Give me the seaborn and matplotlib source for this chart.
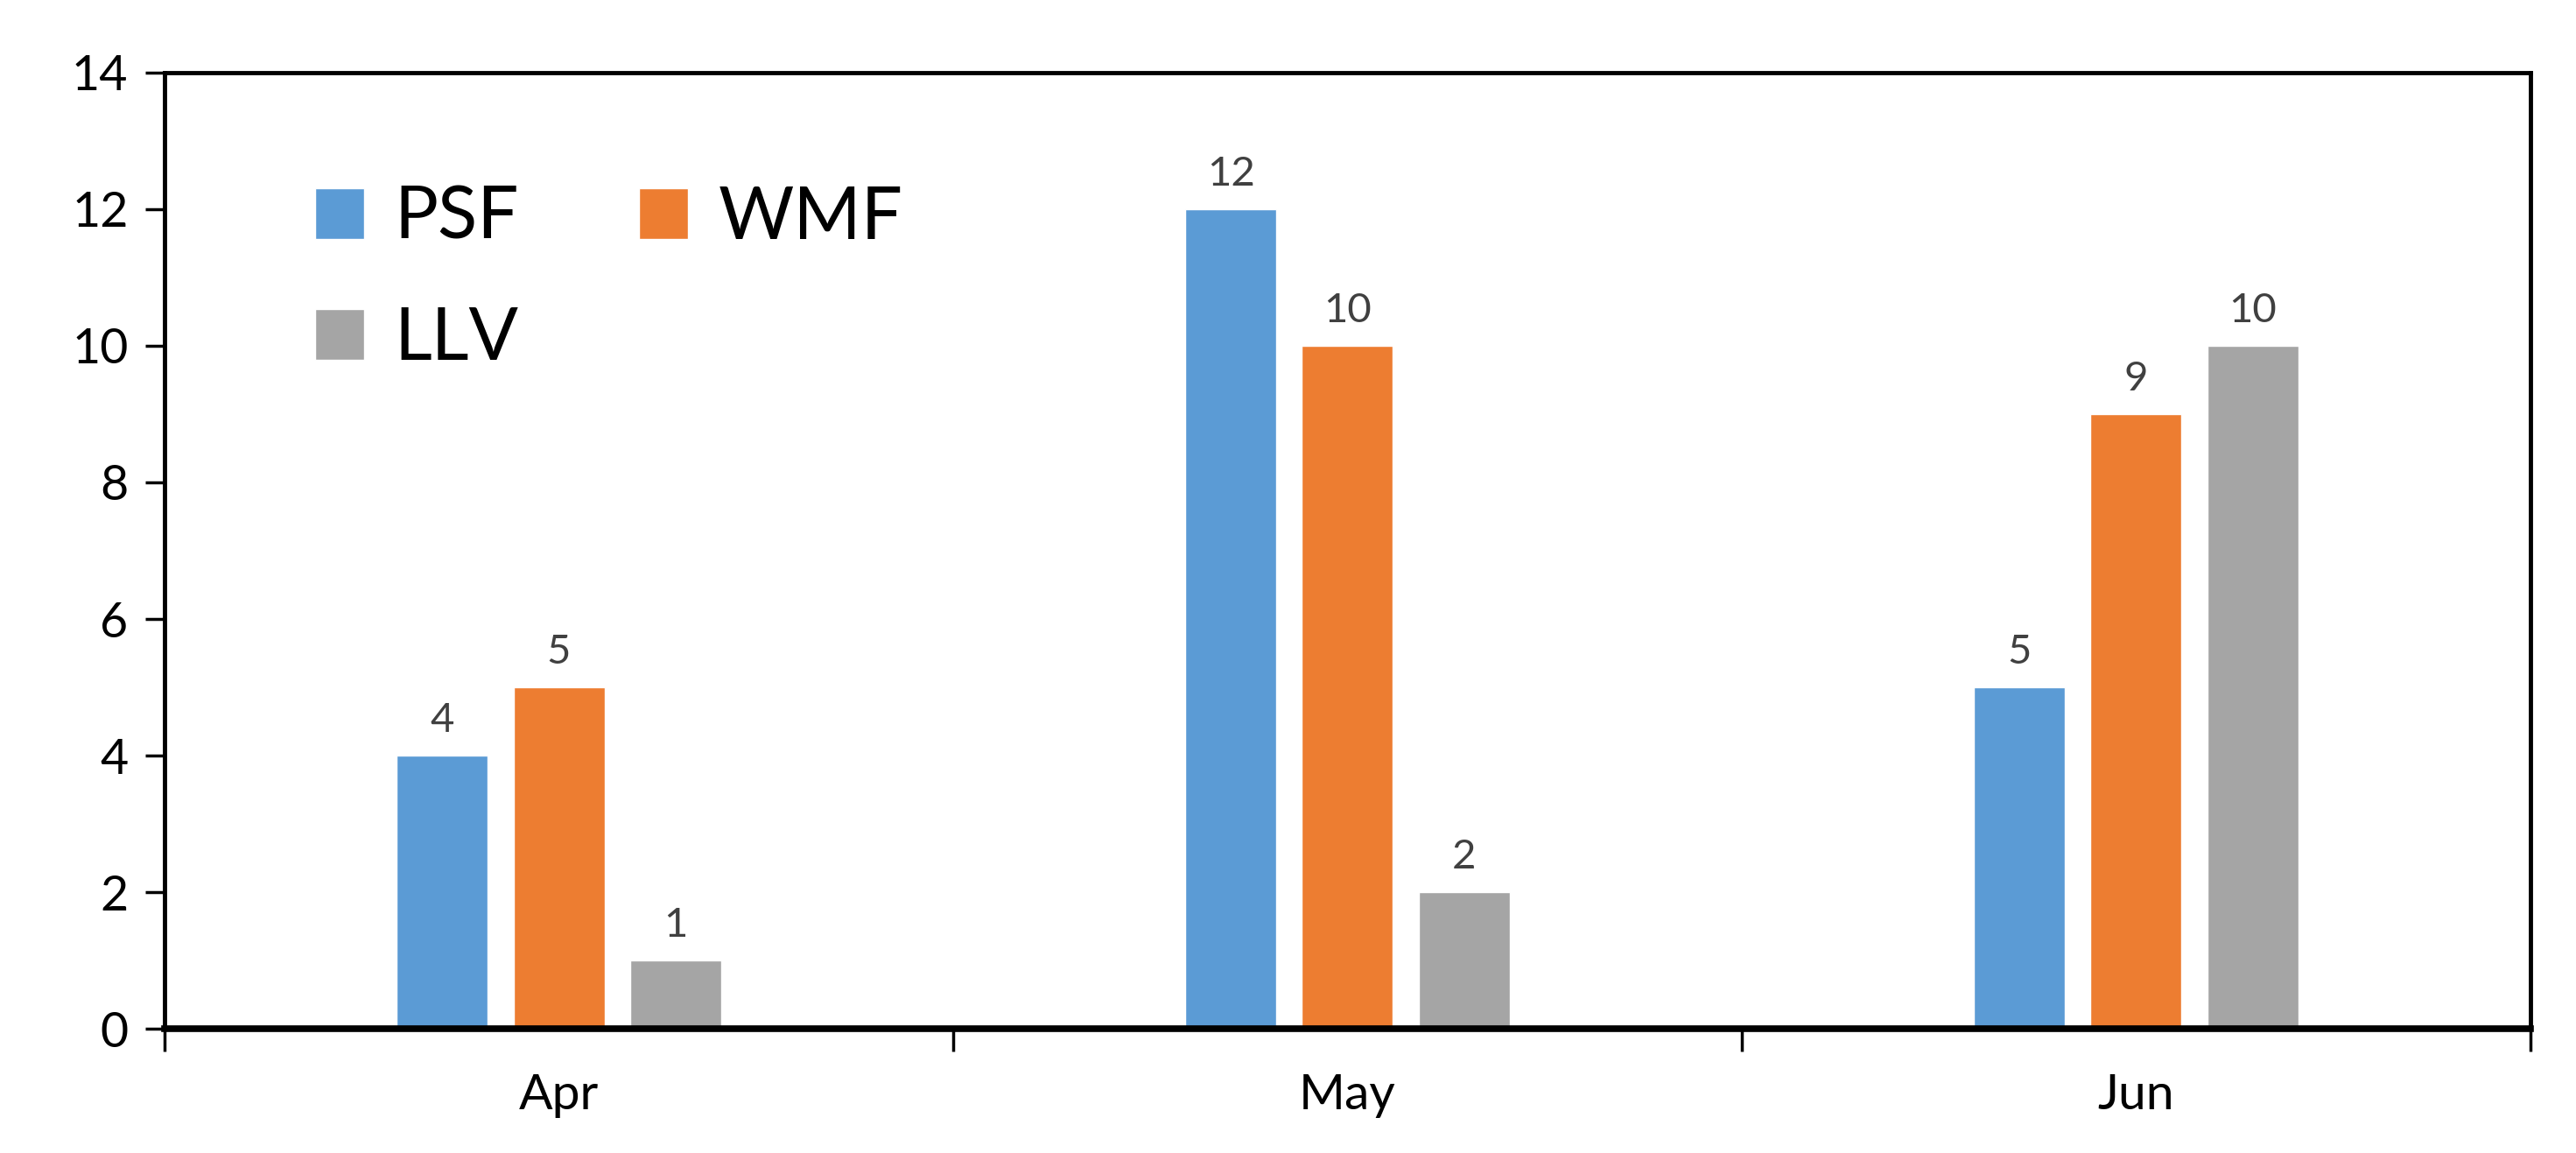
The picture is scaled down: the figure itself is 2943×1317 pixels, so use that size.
import matplotlib
matplotlib.use("Agg")
import matplotlib.pyplot as plt
import seaborn as sns
import pandas as pd

# values
months = ["Apr", "May", "Jun"]
series = ["PSF", "WMF", "LLV"]
psf = [4, 12, 5]
wmf = [5, 10, 9]
llv = [1, 2, 10]
colors = ["#5B9BD5", "#ED7D31", "#A5A5A5"]
y_ticks = [0, 2, 4, 6, 8, 10, 12, 14]

# long-form table for seaborn
df = pd.DataFrame({
    "Month": months * 3,
    "Series": ["PSF"] * 3 + ["WMF"] * 3 + ["LLV"] * 3,
    "Value": psf + wmf + llv,
})

sns.set_style("white")
plt.rcParams["font.family"] = ["Lato", "DejaVu Sans"]
plt.rcParams["text.color"] = "black"

fig = plt.figure(figsize=(29.43, 13.17), dpi=100)
ax = fig.add_axes([0.0639, 0.1078, 0.9184, 0.8292])

sns.barplot(data=df, x="Month", y="Value", hue="Series", order=months,
            hue_order=series, palette=colors, width=0.444, gap=0.22,
            saturation=1, ax=ax)

# data labels above bars
for cont in ax.containers:
    ax.bar_label(cont, fmt="%g", padding=14, fontsize=34, color="#404040")

ax.set_ylim(0, 14)
ax.set_xlim(-0.5, 2.5)
ax.set_yticks(y_ticks)
ax.set_xlabel("")
ax.set_ylabel("")

# spines: full box
for side in ["left", "right", "top"]:
    ax.spines[side].set_visible(True)
    ax.spines[side].set_color("black")
    ax.spines[side].set_linewidth(3.5)
ax.spines["bottom"].set_visible(True)
ax.spines["bottom"].set_color("black")
ax.spines["bottom"].set_linewidth(5.5)

ax.tick_params(axis="y", which="major", direction="out", length=16, width=2.5,
               left=True, labelsize=40, pad=14, colors="black")
ax.tick_params(axis="x", which="major", length=0, labelsize=41, pad=37,
               colors="black")
# category boundary ticks on the x axis
ax.set_xticks([-0.5, 0.5, 1.5, 2.5], minor=True)
ax.tick_params(axis="x", which="minor", direction="out", length=19, width=2.5,
               bottom=True, colors="black")

# legend: PSF, WMF on first row, LLV on second
handles, labels = ax.get_legend_handles_labels()
order = [0, 2, 1]
ax.legend([handles[i] for i in order], [labels[i] for i in order],
          ncol=2, loc="upper left", bbox_to_anchor=(0.0636, 0.882),
          frameon=False, fontsize=60, handlelength=0.67, handleheight=0.7,
          handletextpad=0.42, columnspacing=1.64, labelspacing=0.75,
          borderpad=0, borderaxespad=0, labelcolor="black")

fig.savefig("out.png", dpi=100)
